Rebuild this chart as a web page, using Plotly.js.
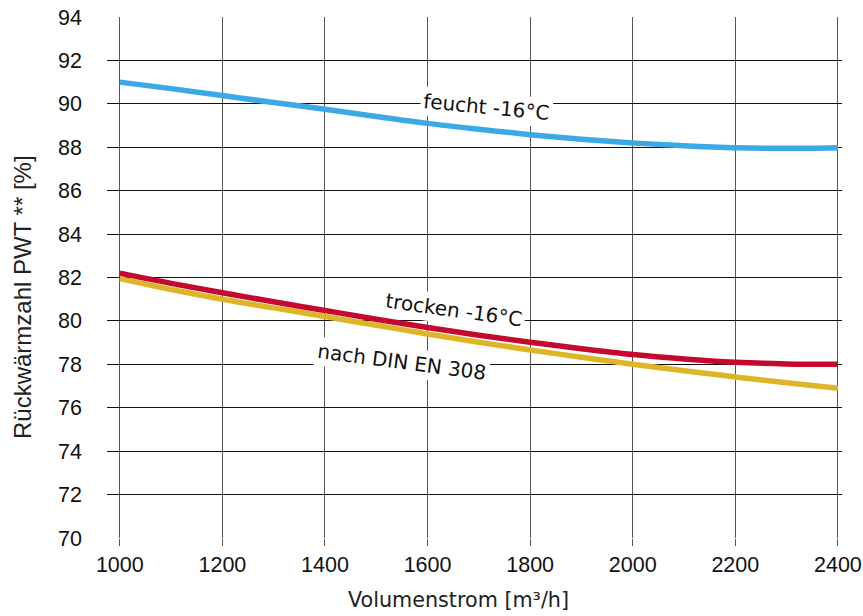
<!DOCTYPE html>
<html>
<head>
<meta charset="utf-8">
<script src="https://cdn.plot.ly/plotly-3.0.1.min.js"></script>
<style>html,body{margin:0;padding:0;background:#fff;}#chart{width:863px;height:616px;}</style>
</head>
<body>
<div id="chart"></div>
<script>
const volumenstrom = [1000, 1100, 1200, 1300, 1400, 1500, 1600, 1700, 1800, 1900, 2000, 2100, 2200, 2300, 2400];
const feucht   = [91.0, 90.7, 90.38, 90.06, 89.75, 89.42, 89.1, 88.83, 88.58, 88.37, 88.2, 88.07, 87.98, 87.95, 87.98];
const trocken  = [82.2, 81.73, 81.3, 80.88, 80.48, 80.08, 79.7, 79.34, 79.02, 78.72, 78.45, 78.25, 78.1, 78.02, 78.0];
const din      = [81.95, 81.45, 81.0, 80.6, 80.2, 79.8, 79.4, 79.02, 78.66, 78.33, 78.0, 77.7, 77.42, 77.15, 76.9];
const xTicks = [1000, 1200, 1400, 1600, 1800, 2000, 2200, 2400];
const yTicks = [70, 72, 74, 76, 78, 80, 82, 84, 86, 88, 90, 92, 94];
const labels = ["feucht -16°C", "trocken -16°C", "nach DIN EN 308"];
const xTitle = "Volumenstrom [m³/h]";
const yTitle = "Rückwärmzahl PWT ** [%]";

const traces = [
  {x: volumenstrom, y: din, mode: 'lines', line: {color: '#DDB527', width: 5.5, shape: 'spline'}},
  {x: volumenstrom, y: trocken, mode: 'lines', line: {color: '#C4082E', width: 5.5, shape: 'spline'}},
  {x: volumenstrom, y: feucht, mode: 'lines', line: {color: '#3BA9E6', width: 5.5, shape: 'spline'}}
];

const annFont = {family: 'DejaVu Sans, sans-serif', size: 20, color: '#111'};
const tickFont = {size: 21.5, family: 'Liberation Sans, Arial, sans-serif', color: '#111'};
const L = 107, R = 21, T = 17, B = 78, W = 863, H = 616;
const pw = W - L - R, ph = H - T - B;
const px2paperX = p => (p - L) / pw;
const px2paperY = p => (H - B - p) / ph;

const layout = {
  width: W, height: H,
  margin: {l: L, r: R, t: T, b: B},
  paper_bgcolor: '#fff', plot_bgcolor: '#fff',
  showlegend: false,
  font: {family: 'Liberation Sans, Arial, sans-serif', color: '#111'},
  xaxis: {
    range: [975, 2408], tickvals: xTicks, ticktext: xTicks.map(String),
    showgrid: true, gridcolor: '#555', gridwidth: 1,
    ticks: 'outside', ticklen: 7, tickcolor: '#555', tickwidth: 1,
    zeroline: false, showline: false,
    tickfont: tickFont
  },
  yaxis: {
    range: [70, 94], tickvals: yTicks, ticktext: yTicks.map(String),
    showgrid: true, gridcolor: '#111', gridwidth: 1,
    ticks: '', zeroline: false, showline: false,
    tickfont: tickFont,
    ticklabelstandoff: 24
  },
  annotations: [
    {x: 1715, y: 89.85, xref: 'x', yref: 'y', text: labels[0], showarrow: false, textangle: 5.5,
     bgcolor: '#fff', font: annFont, borderpad: 2},
    {x: 1652, y: 80.5, xref: 'x', yref: 'y', text: labels[1], showarrow: false, textangle: 8,
     bgcolor: '#fff', font: annFont, borderpad: 2},
    {x: 1551, y: 78.1, xref: 'x', yref: 'y', text: labels[2], showarrow: false, textangle: 7.5,
     bgcolor: '#fff', font: annFont, borderpad: 2},
    {x: px2paperX(458), y: px2paperY(600), xref: 'paper', yref: 'paper', xanchor: 'center', yanchor: 'middle',
     text: xTitle, showarrow: false,
     font: {family: 'DejaVu Sans, sans-serif', size: 20.7, color: '#222'}},
    {x: px2paperX(22), y: px2paperY(297), xref: 'paper', yref: 'paper', xanchor: 'center', yanchor: 'middle',
     text: yTitle, showarrow: false, textangle: -90,
     font: {family: 'Liberation Sans, Arial, sans-serif', size: 24, color: '#222'}}
  ]
};

Plotly.newPlot('chart', traces, layout, {displayModeBar: false, staticPlot: true});
</script>
</body>
</html>
